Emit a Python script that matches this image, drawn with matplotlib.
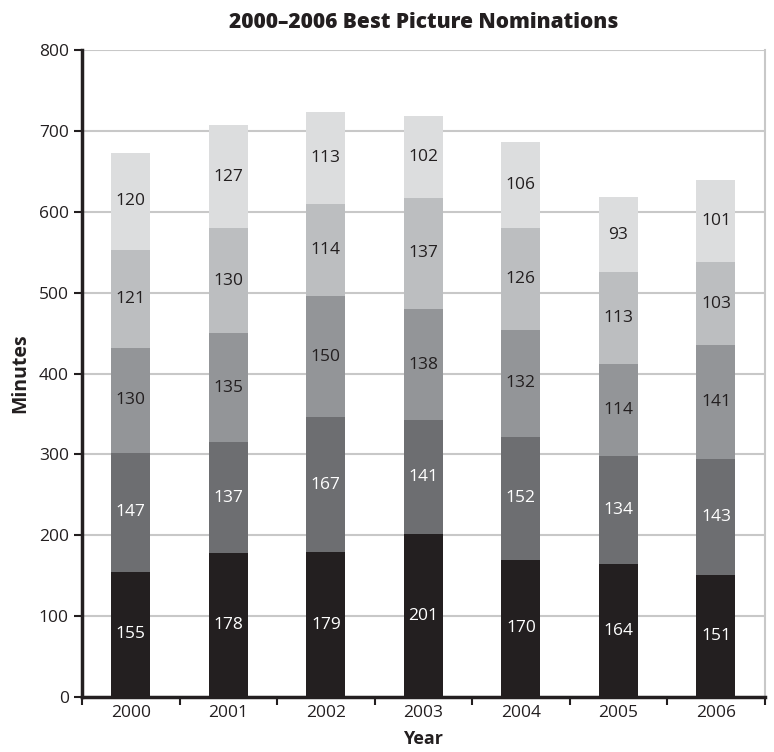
import numpy as np
import matplotlib.pyplot as plt

years = ['2000', '2001', '2002', '2003', '2004', '2005', '2006']
# five nominations per year, stacked bottom to top
seg1 = [155, 178, 179, 201, 170, 164, 151]
seg2 = [147, 137, 167, 141, 152, 134, 143]
seg3 = [130, 135, 150, 138, 132, 114, 141]
seg4 = [121, 130, 114, 137, 126, 113, 103]
seg5 = [120, 127, 113, 102, 106, 93, 101]
segments = [seg1, seg2, seg3, seg4, seg5]

colors = ['#231f20', '#6d6e71', '#939598', '#bcbec0', '#dcddde']
text_colors = ['white', 'white', '#231f20', '#231f20', '#231f20']

plt.rcParams['font.family'] = ['Open Sans', 'DejaVu Sans']

fig = plt.figure(figsize=(7.74, 7.52), dpi=100)
ax = fig.add_axes([0.106, 0.0731, 0.882, 0.8604])

x = np.arange(len(years))
bottom = np.zeros(len(years))
for vals, c, tc in zip(segments, colors, text_colors):
    vals = np.array(vals)
    ax.bar(x, vals, 0.4, bottom=bottom, color=c, zorder=3)
    for xi, b, v in zip(x, bottom, vals):
        ax.text(xi, b + v / 2, str(v), ha='center', va='center',
                color=tc, fontsize=12.5, zorder=4)
    bottom = bottom + vals

ax.set_xlim(-0.5, len(years) - 0.5)
ax.set_ylim(0, 800)
ax.set_yticks(range(0, 801, 100))
ax.set_xticks(x)
ax.set_xticklabels(years, fontsize=12.5, color='#231f20')
ax.set_xticks(np.arange(-0.5, len(years), 1), minor=True)
ax.tick_params(axis='x', which='major', length=0, pad=6)
ax.tick_params(axis='x', which='minor', length=6, width=1.5, color='#231f20', direction='out')
ax.tick_params(axis='y', length=6, width=1.5, color='#231f20', labelsize=12.5, labelcolor='#231f20')

ax.grid(axis='y', color='#c8c8c8', linewidth=1.5, zorder=0)
for s in ['left', 'bottom']:
    ax.spines[s].set_linewidth(2.5)
    ax.spines[s].set_color('#231f20')
    ax.spines[s].set_zorder(5)
ax.spines['top'].set_visible(False)
ax.spines['right'].set_color('#c8c8c8')
ax.spines['right'].set_linewidth(1.5)

ax.set_title('2000–2006 Best Picture Nominations', fontsize=15, fontweight='heavy',
             color='#231f20', pad=16)
ax.set_xlabel('Year', fontsize=13, fontweight='bold', color='#231f20', labelpad=6)
ax.set_ylabel('Minutes', fontsize=14, fontweight='bold', color='#231f20', labelpad=6)

fig.savefig('out.png', dpi=100)
